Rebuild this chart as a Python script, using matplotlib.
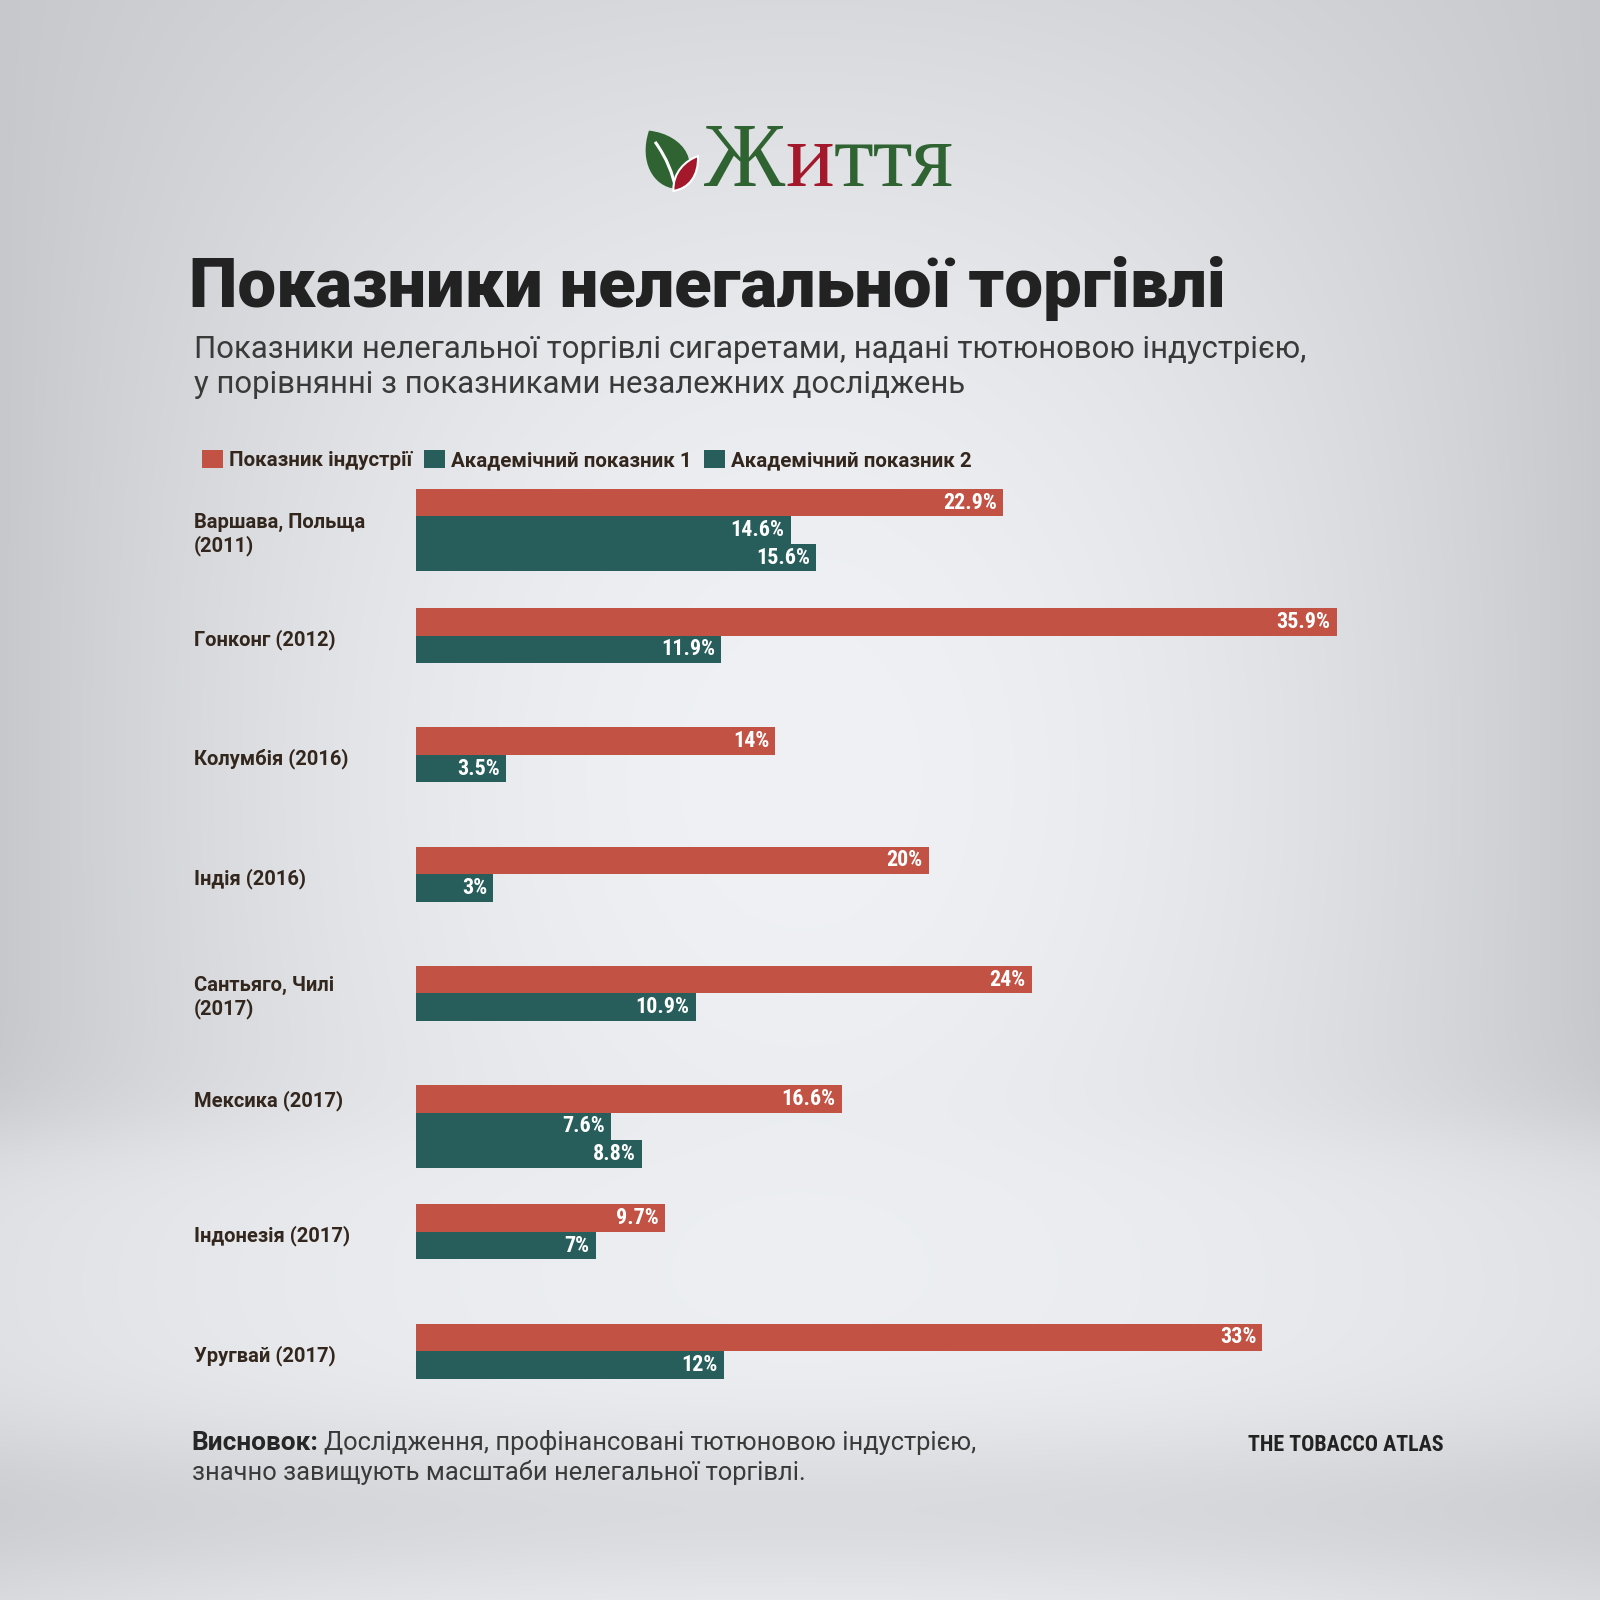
import numpy as np
import matplotlib
matplotlib.use("Agg")
import matplotlib.pyplot as plt
from matplotlib.path import Path
from matplotlib.patches import PathPatch, Patch
import matplotlib.transforms as mtransforms

# дані
categories = ["Варшава, Польща\n(2011)", "Гонконг (2012)", "Колумбія (2016)", "Індія (2016)",
              "Сантьяго, Чилі\n(2017)", "Мексика (2017)", "Індонезія (2017)", "Уругвай (2017)"]
industry = [22.9, 35.9, 14, 20, 24, 16.6, 9.7, 33]
academic1 = [14.6, 11.9, 3.5, 3, 10.9, 7.6, 7, 12]
academic2 = [15.6, None, None, None, None, 8.8, None, None]
series_names = ["Показник індустрії", "Академічний показник 1", "Академічний показник 2"]

RED = "#C25244"
TEAL = "#275E5B"
BROWN = "#33261D"

BOLD = ["Roboto", "DejaVu Sans"]
LIGHT = ["Roboto", "DejaVu Sans"]
NARROW = ["Roboto Condensed", "DejaVu Sans"]

D = 1568.0          # координати, в яких я міряв картинку
S = 1600.0 / D      # масштаб шрифтів

fig = plt.figure(figsize=(16, 16), dpi=100)

# фон (студійний: стіна + підлога)
bg = fig.add_axes([0, 0, 1, 1])
yy, xx = np.mgrid[0:1600, 0:1600] / S
hx = ((xx - 784) / 784.0) ** 2
dy = ((yy - 760) / 780.0) ** 2
wall = 0.945 - 0.16 * hx - 0.10 * dy + 0.10 * hx * dy
floor = 0.935 - 0.05 * hx - 0.075 * np.exp(-((yy - 1480) / 90.0) ** 2)
s = 1 / (1 + np.exp(-(yy - 1110) / 25.0))
v = wall * (1 - s) + floor * s
img = np.dstack([v - 0.008, v, v + 0.012]).clip(0, 1)
bg.imshow(img, extent=[0, D, D, 0], aspect="auto")
bg.set_xlim(0, D)
bg.set_ylim(D, 0)
bg.axis("off")

# логотип: листочки
green_leaf = Path([(636, 128), (672, 132), (690, 164), (662, 185), (640, 183), (626, 158), (636, 128), (636, 128)],
                  [Path.MOVETO, Path.CURVE4, Path.CURVE4, Path.CURVE4, Path.CURVE4, Path.CURVE4, Path.CURVE4, Path.CLOSEPOLY])
bg.add_patch(PathPatch(green_leaf, facecolor="#2F6331", edgecolor="none"))
vein = Path([(642, 139), (654, 156), (659, 170), (662, 184)],
            [Path.MOVETO, Path.CURVE4, Path.CURVE4, Path.CURVE4])
bg.add_patch(PathPatch(vein, facecolor="none", edgecolor="white", lw=2.2))
red_leaf = Path([(660, 187), (659, 169), (672, 157), (684, 153), (685, 172), (675, 185), (660, 187), (660, 187)],
                [Path.MOVETO, Path.CURVE4, Path.CURVE4, Path.CURVE4, Path.CURVE4, Path.CURVE4, Path.CURVE4, Path.CLOSEPOLY])
bg.add_patch(PathPatch(red_leaf, facecolor="#A3192B", edgecolor="white", lw=1.5))

# логотип: текст
renderer = fig.canvas.get_renderer()
x = 690
for part, col in [("Ж", "#2F6331"), ("и", "#A3192B"), ("ття", "#2F6331")]:
    t = bg.text(x, 182, part, color=col, fontsize=64 * S, family="Liberation Serif",
                ha="left", va="baseline")
    x += t.get_window_extent(renderer).width / S

# заголовок
bg.text(185, 301, "Показники нелегальної торгівлі", fontsize=48.5 * S, fontweight="black",
        color="#222222", family=BOLD, ha="left", va="baseline")
bg.text(190, 351, "Показники нелегальної торгівлі сигаретами, надані тютюновою індустрією,",
        fontsize=22 * S, fontweight="normal", color="#3a3a3a", family=LIGHT, ha="left", va="baseline")
bg.text(190, 385, "у порівнянні з показниками незалежних досліджень",
        fontsize=22 * S, fontweight="normal", color="#3a3a3a", family=LIGHT, ha="left", va="baseline")

# діаграма
x0, y0, y1 = 408, 479, 1351
ppu = (1310 - 408) / 35.9   # пікселів на 1 %
ax = fig.add_axes([x0 / D, 1 - y1 / D, (1420 - x0) / D, (y1 - y0) / D])
ax.patch.set_alpha(0)
pitch = 117 / 27.0
lab_tr = mtransforms.blended_transform_factory(fig.transFigure, ax.transData)
for i, cat in enumerate(categories):
    top = i * pitch
    vals = [(industry[i], RED), (academic1[i], TEAL), (academic2[i], TEAL)]
    n = 0
    for j, (val, col) in enumerate(vals):
        if val is None:
            continue
        yc = top + j + 0.5
        ax.barh(yc, val, height=1.0, color=col, edgecolor="none")
        ax.annotate(f"{val:g}%", (val, yc), xytext=(-6 * S, 0), textcoords="offset pixels",
                    ha="right", va="center", color="white", fontsize=15.5 * S, fontweight="bold",
                    family=NARROW, stretch="condensed")
        n = j + 1
    ymid = top + n / 2.0 + 0.15
    if i == 5:
        ymid = top + 0.55
    ax.text(190 / D, ymid, cat, transform=lab_tr,
            ha="left", va="center", fontsize=14.2 * S, fontweight="bold", color=BROWN, family=BOLD,
            linespacing=1.2)

ax.set_xlim(0, (1420 - x0) / ppu)
ax.set_ylim(7 * pitch + 2, 0)
ax.axis("off")

# легенда
handles = [Patch(facecolor=RED), Patch(facecolor=TEAL), Patch(facecolor=TEAL)]
leg = fig.legend(handles, series_names, ncol=3, loc="center left",
                 bbox_to_anchor=(180 / D, 1 - 451 / D), frameon=False,
                 handlelength=1.0, handleheight=1.0, handletextpad=0.3, columnspacing=0.6,
                 prop={"family": BOLD, "weight": "bold", "size": 14.5 * S})
for t in leg.get_texts():
    t.set_color(BROWN)

# висновок
b = bg.text(188, 1421, "Висновок:", fontsize=18.5 * S, fontweight="bold", color="#262626",
            family=BOLD, ha="left", va="baseline")
bw = b.get_window_extent(renderer).width / S
bg.text(188 + bw + 5, 1421, "Дослідження, профінансовані тютюновою індустрією,",
        fontsize=18 * S, fontweight="normal", color="#3a3a3a", family=LIGHT, ha="left", va="baseline")
bg.text(188, 1450, "значно завищують масштаби нелегальної торгівлі.",
        fontsize=18 * S, fontweight="normal", color="#3a3a3a", family=LIGHT, ha="left", va="baseline")
bg.text(1415, 1422, "THE TOBACCO ATLAS", fontsize=15.5 * S, fontweight="bold", color="#222222",
        family=NARROW, stretch="condensed", ha="right", va="baseline")

fig.savefig("out.png", dpi=100)
